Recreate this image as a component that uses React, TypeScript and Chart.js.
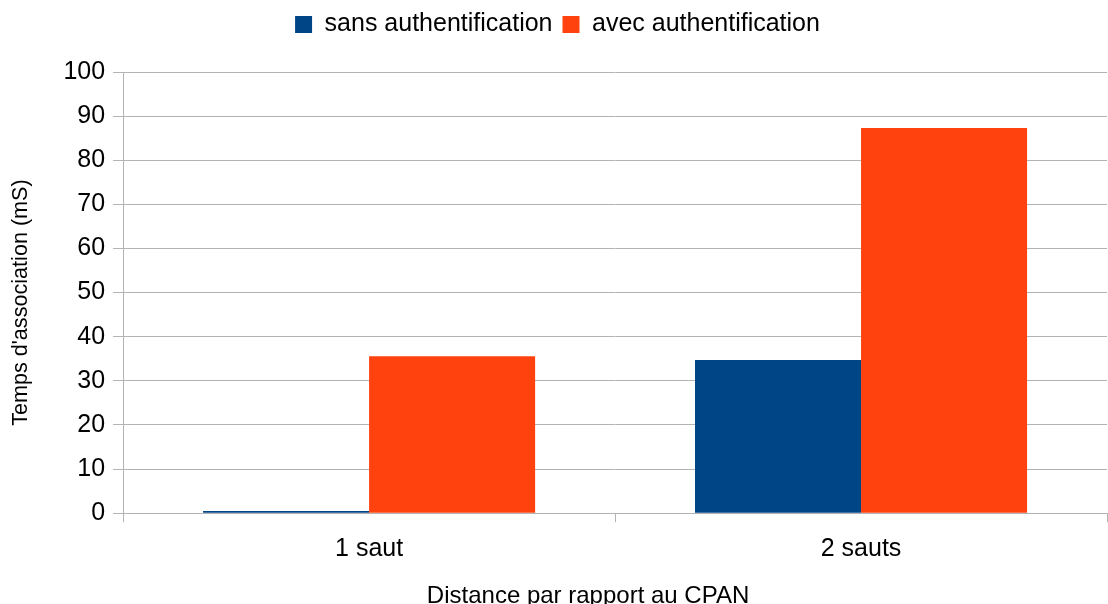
import React, { useEffect, useRef } from "react";
import { Chart, registerables } from "chart.js";

Chart.register(...registerables);

const categories = ["1 saut", "2 sauts"];
const sansAuth = [0.5, 34.7];
const avecAuth = [35.6, 87.3];
const seriesNames = ["sans authentification", "avec authentification"];
const yTitle = "Temps d'association (mS)";
const xTitle = "Distance par rapport au CPAN";

const FONT = "'Liberation Sans', Arial, sans-serif";

const legendMargin = {
  id: "legendMargin",
  beforeInit(chart: any) {
    const lg = chart.legend;
    if (!lg) return;
    const orig = lg.fit;
    lg.fit = function () {
      orig.call(this);
      this.height += 25;
    };
  },
};

// Draws the axis titles slightly off-centre, as in the reference (space is reserved by the transparent scale titles)
const offsetTitles = {
  id: "offsetTitles",
  afterDraw(chart: any) {
    const ctx = chart.ctx;
    const ca = chart.chartArea;
    const xs = chart.scales.x;
    const ys = chart.scales.y;
    ctx.save();
    ctx.fillStyle = "#000";
    ctx.textAlign = "center";
    ctx.textBaseline = "middle";
    ctx.font = `24px ${FONT}`;
    ctx.fillText(xTitle, (ca.left + ca.right) / 2 - 27, xs.bottom - 14.4 + 1);
    ctx.translate(ys.left + 13.2, (ca.top + ca.bottom) / 2 + 10);
    ctx.rotate(-Math.PI / 2);
    ctx.font = `21.6px ${FONT}`;
    ctx.fillText(yTitle, 0, 0);
    ctx.restore();
  },
};

export default function App() {
  const ref = useRef<HTMLCanvasElement>(null);
  useEffect(() => {
    document.body.style.margin = "0";
    const font = FONT;
    const chart = new Chart(ref.current!, {
      type: "bar",
      data: {
        labels: categories,
        datasets: [
          { label: seriesNames[0], data: sansAuth, backgroundColor: "#004586" },
          { label: seriesNames[1], data: avecAuth, backgroundColor: "#ff420e" },
        ],
      },
      plugins: [legendMargin, offsetTitles],
      options: {
        animation: false,
        responsive: false,
        maintainAspectRatio: false,
        layout: { padding: { left: 8, right: 1, top: 2, bottom: -6 } },
        datasets: { bar: { categoryPercentage: 0.675, barPercentage: 1 } },
        plugins: {
          legend: {
            position: "top",
            labels: {
              font: { family: font, size: 25 },
              color: "#000",
              boxWidth: 17,
              boxHeight: 17,
              padding: 10,
            },
          },
          tooltip: { enabled: false },
        },
        scales: {
          x: {
            grid: { drawOnChartArea: false, offset: true, tickLength: 9, color: "#b3b3b3" },
            border: { color: "#b3b3b3" },
            ticks: { font: { family: font, size: 25 }, color: "#000", padding: 12 },
            title: { display: true, text: xTitle, font: { family: font, size: 24 }, color: "rgba(0,0,0,0)", padding: { top: 5, bottom: 0 } },
          },
          y: {
            min: 0,
            max: 100,
            ticks: { stepSize: 10, font: { family: font, size: 25 }, color: "#000", padding: 8 },
            grid: { color: "#b3b3b3", tickLength: 10 },
            border: { color: "#b3b3b3" },
            title: { display: true, text: yTitle, font: { family: font, size: 22 }, color: "rgba(0,0,0,0)", padding: { top: 0, bottom: 21 } },
          },
        },
      },
    });
    return () => chart.destroy();
  }, []);
  return (
    <div style={{ width: 1108, height: 604 }}>
      <canvas ref={ref} width={1108} height={604} style={{ display: "block" }} />
    </div>
  );
}
